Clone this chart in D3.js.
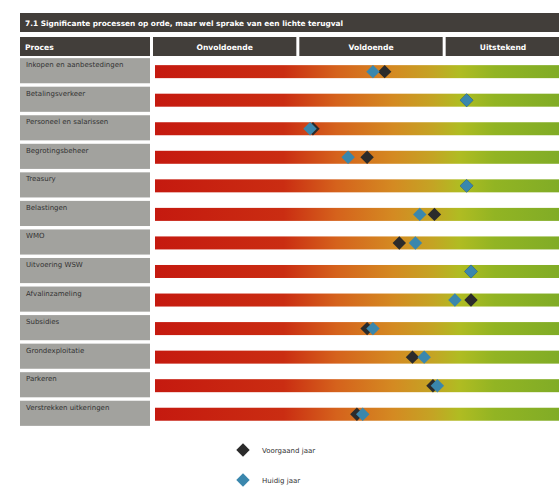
<!DOCTYPE html>
<html>
<head>
<meta charset="utf-8">
<script src="https://cdn.jsdelivr.net/npm/d3@7"></script>
<style>
	body { margin: 0; background: #fff; }
	svg { display: block; font-family: "DejaVu Sans", sans-serif; }
</style>
</head>
<body>
<svg id="chart" width="559" height="488"></svg>
<script>
const title = '7.1 Significante processen op orde, maar wel sprake van een lichte terugval'
const processes = [
	'Inkopen en aanbestedingen', 'Betalingsverkeer', 'Personeel en salarissen', 'Begrotingsbeheer',
	'Treasury', 'Belastingen', 'WMO', 'Uitvoering WSW', 'Afvalinzameling', 'Subsidies',
	'Grondexploitatie', 'Parkeren', 'Verstrekken uitkeringen'
]
const levels = ['Onvoldoende', 'Voldoende', 'Uitstekend']
// score 0..3 : 0-1 onvoldoende, 1-2 voldoende, 2-3 uitstekend
const previousYear = [1.59, 2.15, 1.10, 1.47, 2.15, 1.93, 1.69, 2.18, 2.18, 1.47, 1.78, 1.92, 1.40]
const currentYear  = [1.51, 2.15, 1.08, 1.34, 2.15, 1.83, 1.80, 2.18, 2.07, 1.51, 1.86, 1.95, 1.44]
const legendItems = ['Voorgaand jaar', 'Huidig jaar']

const svg = d3.select('#chart')
const left = 20, labelW = 130
const x = d3.scaleLinear().domain([0, 3]).range([152, 591])
const y = d3.scaleBand().domain(processes).range([57, 427]).paddingInner(0.12).paddingOuter(0.04)
const colors = { prev: '#2b2b2b', cur: '#3a87ad' }

// gradient for the bars
const grad = svg.append('defs').append('linearGradient')
	.attr('id', 'scoreGrad').attr('gradientUnits', 'userSpaceOnUse')
	.attr('x1', x(0)).attr('x2', x(3)).attr('y1', 0).attr('y2', 0)
const stops = [[0, '#c5190f'], [0.3, '#ca2d12'], [0.42, '#d5621c'], [0.55, '#d48a22'],
	[0.64, '#c4a424'], [0.7, '#b0bc22'], [0.78, '#92b423'], [1, '#78a828']]
stops.forEach(s => grad.append('stop').attr('offset', s[0]).attr('stop-color', s[1]))

// title bar
svg.append('rect').attr('x', left).attr('y', 13).attr('width', 559 - left).attr('height', 19).attr('fill', '#423e3a')
svg.append('text').attr('x', left + 5).attr('y', 26).text(title)
	.attr('fill', '#fff').attr('font-size', 7.4).attr('font-weight', 'bold')

// header row
const headers = [{ t: 'Proces', x0: left, x1: 150, anchor: 'start' }]
levels.forEach((l, i) => headers.push({ t: l, x0: x(i) + 1, x1: x(i + 1) - 2, anchor: 'middle' }))
const hg = svg.append('g')
hg.selectAll('rect').data(headers).join('rect')
	.attr('x', d => d.x0).attr('y', 37).attr('width', d => d.x1 - d.x0).attr('height', 19).attr('fill', '#423e3a')
hg.selectAll('text').data(headers).join('text')
	.attr('x', d => d.anchor == 'start' ? d.x0 + 5 : (d.t == 'Uitstekend' ? 503 : (d.x0 + d.x1) / 2))
	.attr('y', 50).attr('text-anchor', d => d.anchor)
	.attr('fill', '#fff').attr('font-size', 7.6).attr('font-weight', 'bold').text(d => d.t)

// rows
const rows = svg.append('g').selectAll('g').data(processes).join('g')
	.attr('transform', d => `translate(0,${y(d)})`)
rows.append('rect').attr('x', left).attr('width', labelW).attr('height', y.bandwidth()).attr('fill', '#a2a29e')
rows.append('text').attr('x', left + 6).attr('y', 9).text(d => d)
	.attr('font-size', 7).attr('fill', '#333')
rows.append('rect').attr('x', x(0) + 3).attr('y', 7).attr('width', x(3) - x(0)).attr('height', 13)
	.attr('fill', 'url(#scoreGrad)')

// markers
const diamond = d3.symbol().type(d3.symbolSquare).size(90)
const marks = svg.append('g')
function drawMarks(values, color) {
	marks.append('g').selectAll('path').data(values).join('path')
		.attr('d', diamond)
		.attr('transform', (d, i) => `translate(${x(d)},${y(processes[i]) + 13.5}) rotate(45)`)
		.attr('fill', color)
}
drawMarks(previousYear, colors.prev)
drawMarks(currentYear, colors.cur)

// legend
const lg = svg.append('g').selectAll('g').data(legendItems).join('g')
	.attr('transform', (d, i) => `translate(243,${450 + i * 30})`)
lg.append('path').attr('d', diamond).attr('transform', 'rotate(45)')
	.attr('fill', (d, i) => i == 0 ? colors.prev : colors.cur)
lg.append('text').attr('x', 19).attr('y', 3).text(d => d).attr('font-size', 7).attr('fill', '#333')
</script>
</body>
</html>
